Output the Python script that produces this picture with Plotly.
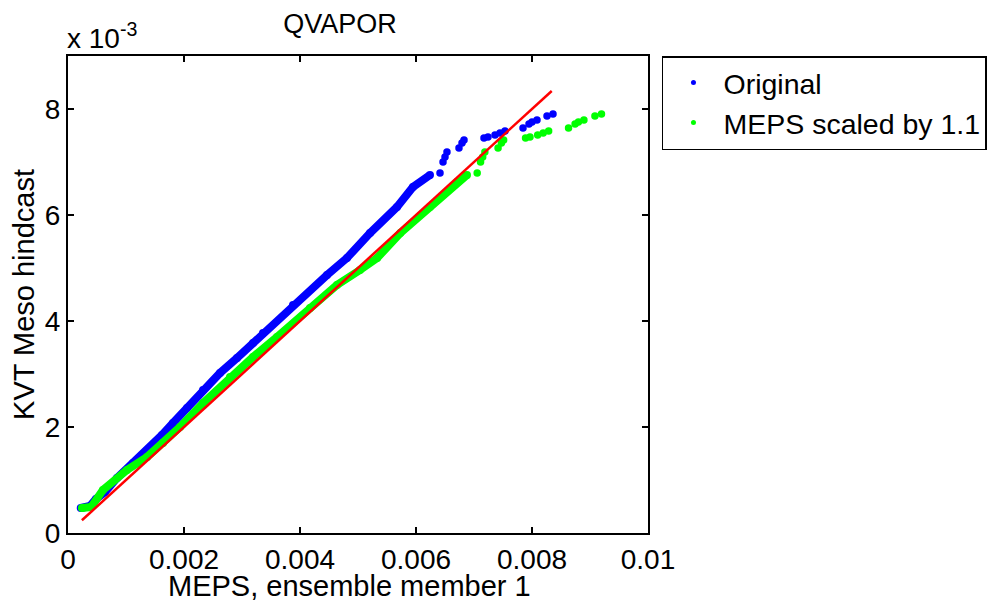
import plotly.graph_objects as go

# ---------------- data ----------------
# "Original": MEPS member 1 quantiles (x) vs KVT Meso hindcast quantiles (y)
orig_x_dense = [0.22e-3, 0.379e-3, 0.483e-3, 0.638e-3, 0.845e-3, 1.121e-3, 1.448e-3, 1.621e-3,
                1.810e-3, 2.052e-3, 2.328e-3, 2.621e-3, 2.914e-3, 3.190e-3, 3.362e-3, 3.879e-3,
                4.466e-3, 4.810e-3, 5.207e-3, 5.672e-3, 5.948e-3, 6.241e-3]
orig_y_dense = [0.472e-3, 0.509e-3, 0.642e-3, 0.774e-3, 1.038e-3, 1.321e-3, 1.642e-3, 1.849e-3,
                2.075e-3, 2.358e-3, 2.698e-3, 3.019e-3, 3.302e-3, 3.585e-3, 3.774e-3, 4.302e-3,
                4.868e-3, 5.189e-3, 5.660e-3, 6.151e-3, 6.528e-3, 6.755e-3]
orig_x_sparse = [6.414e-3, 6.466e-3, 6.500e-3, 6.534e-3, 6.741e-3, 6.793e-3, 6.828e-3, 7.172e-3,
                 7.241e-3, 7.362e-3, 7.448e-3, 7.534e-3, 7.845e-3, 7.948e-3, 8.000e-3, 8.086e-3,
                 8.259e-3, 8.362e-3]
orig_y_sparse = [6.792e-3, 7.000e-3, 7.094e-3, 7.189e-3, 7.264e-3, 7.358e-3, 7.415e-3, 7.453e-3,
                 7.472e-3, 7.509e-3, 7.547e-3, 7.585e-3, 7.642e-3, 7.717e-3, 7.755e-3, 7.792e-3,
                 7.868e-3, 7.906e-3]

# "MEPS scaled by 1.1"
scaled_x_dense = [0.24e-3, 0.40e-3, 0.603e-3, 1.017e-3, 1.362e-3, 1.638e-3, 1.931e-3, 2.328e-3,
                  2.793e-3, 3.190e-3, 3.603e-3, 4.172e-3, 4.638e-3, 5.034e-3, 5.33e-3, 5.73e-3,
                  6.241e-3, 6.707e-3, 6.879e-3]
scaled_y_dense = [0.472e-3, 0.491e-3, 0.811e-3, 1.189e-3, 1.434e-3, 1.698e-3, 2.000e-3, 2.453e-3,
                  2.943e-3, 3.321e-3, 3.698e-3, 4.245e-3, 4.679e-3, 4.962e-3, 5.189e-3, 5.660e-3,
                  6.151e-3, 6.623e-3, 6.755e-3]
scaled_x_sparse = [7.055e-3, 7.113e-3, 7.150e-3, 7.187e-3, 7.415e-3, 7.472e-3, 7.511e-3, 7.889e-3,
                   7.965e-3, 8.098e-3, 8.193e-3, 8.287e-3, 8.630e-3, 8.743e-3, 8.800e-3, 8.895e-3,
                   9.085e-3, 9.198e-3]
scaled_y_sparse = [6.792e-3, 7.000e-3, 7.094e-3, 7.189e-3, 7.264e-3, 7.358e-3, 7.415e-3, 7.453e-3,
                   7.472e-3, 7.509e-3, 7.547e-3, 7.585e-3, 7.642e-3, 7.717e-3, 7.755e-3, 7.792e-3,
                   7.868e-3, 7.906e-3]

# reference 1:1 line
ref_x = [0.24e-3, 8.34e-3]
ref_y = [0.24e-3, 8.34e-3]

x_tick_vals = [0, 0.002, 0.004, 0.006, 0.008, 0.01]
x_tick_text = ["0", "0.002", "0.004", "0.006", "0.008", "0.01"]
y_tick_vals = [0, 0.002, 0.004, 0.006, 0.008]
y_tick_text = ["0", "2", "4", "6", "8"]

series_names = ["Original", "MEPS scaled by 1.1"]
BLUE, GREEN, RED = "#0000FF", "#00FF00", "#FF0000"
FONT = "Liberation Sans, Arial, sans-serif"

fig = go.Figure()

# Original
fig.add_trace(go.Scatter(x=orig_x_dense, y=orig_y_dense, mode="lines+markers",
                         line=dict(color=BLUE, width=8), marker=dict(color=BLUE, size=8),
                         showlegend=False, hoverinfo="skip"))
fig.add_trace(go.Scatter(x=orig_x_sparse, y=orig_y_sparse, mode="markers",
                         marker=dict(color=BLUE, size=7.5), showlegend=False))
# Scaled
fig.add_trace(go.Scatter(x=scaled_x_dense, y=scaled_y_dense, mode="lines+markers",
                         line=dict(color=GREEN, width=8), marker=dict(color=GREEN, size=8),
                         showlegend=False, hoverinfo="skip"))
fig.add_trace(go.Scatter(x=scaled_x_sparse, y=scaled_y_sparse, mode="markers",
                         marker=dict(color=GREEN, size=7.5), showlegend=False))
# 1:1 line
fig.add_trace(go.Scatter(x=ref_x, y=ref_y, mode="lines", line=dict(color=RED, width=2.5),
                         showlegend=False))

# legend entries (small dots like the original)
fig.add_trace(go.Scatter(x=[None], y=[None], mode="markers", name=series_names[0],
                         marker=dict(color=BLUE, size=5)))
fig.add_trace(go.Scatter(x=[None], y=[None], mode="markers", name=series_names[1],
                         marker=dict(color=GREEN, size=5)))

axis_common = dict(showgrid=False, zeroline=False, showline=True, linecolor="black",
                   linewidth=2, mirror="ticks", ticks="inside", ticklen=6, tickwidth=1.5,
                   tickcolor="black", tickfont=dict(family=FONT, size=28, color="black"))

fig.update_xaxes(range=[0, 0.01], tickvals=x_tick_vals, ticktext=x_tick_text, **axis_common)
fig.update_yaxes(range=[0, 0.009], tickvals=y_tick_vals, ticktext=y_tick_text,
                 title=dict(text="KVT Meso hindcast", font=dict(family=FONT, size=29, color="black"),
                            standoff=20),
                 **axis_common)

# The page body adds an 8 px offset, so the figure is 8 px smaller and margins shifted.
W, H = 987, 596
fig.update_layout(
    width=W, height=H,
    margin=dict(l=60, r=347, t=48, b=71, autoexpand=False),
    paper_bgcolor="white", plot_bgcolor="white",
    title=dict(text="QVAPOR", font=dict(family=FONT, size=27, color="black"),
               x=332 / W, xanchor="center", y=1 - 16 / H, yanchor="middle"),
    legend=dict(x=1.0241, xanchor="left", y=1.0, yanchor="top",
                bordercolor="black", borderwidth=1.5, bgcolor="white",
                font=dict(family=FONT, size=28.5, color="black"), itemwidth=50),
    annotations=[
        dict(text="x 10<sup>-3</sup>", xref="paper", yref="paper", x=-0.006, y=1.0,
             xanchor="left", yanchor="bottom", showarrow=False,
             font=dict(family=FONT, size=28, color="black")),
        dict(text="MEPS, ensemble member 1", xref="paper", yref="paper", x=0.4845, y=-0.1111,
             xanchor="center", yanchor="middle", showarrow=False,
             font=dict(family=FONT, size=29, color="black")),
    ],
)

fig.write_html("out.html")
